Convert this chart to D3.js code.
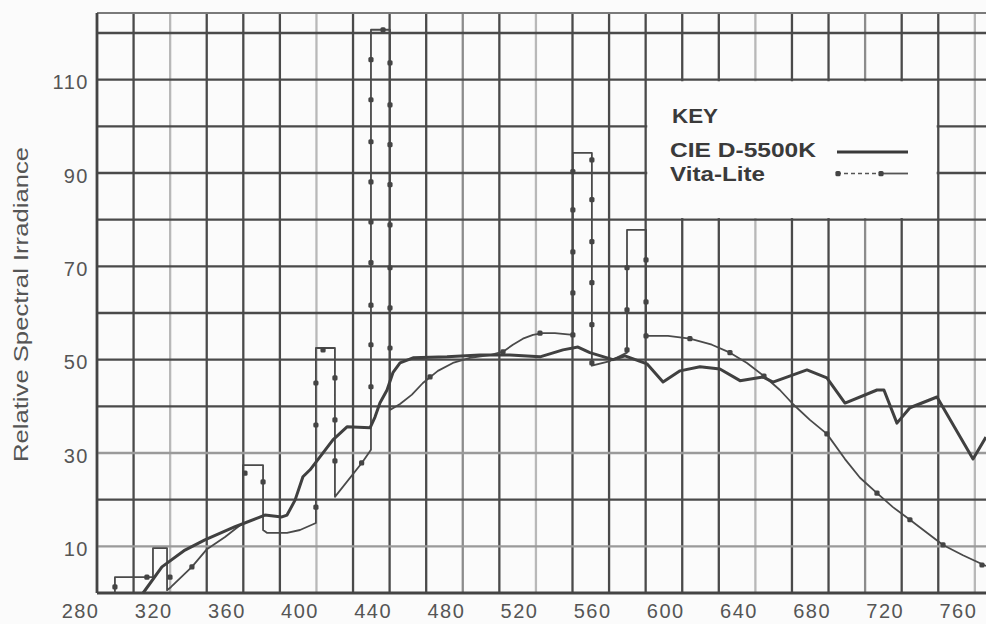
<!DOCTYPE html>
<html>
<head>
<meta charset="utf-8">
<script src="https://cdn.jsdelivr.net/npm/d3@7"></script>
<style>
  body { margin: 0; background: #fbfbfb; }
  svg { display: block; }
  text { font-family: "Liberation Sans", Arial, sans-serif; }
</style>
</head>
<body>
<div id="plot"></div>
<script>
// tick labels and grid
const xLabels = [280, 320, 360, 400, 440, 480, 520, 560, 600, 640, 680, 720, 760];
const xGrid = [280, 300, 320, 340, 360, 380, 400, 420, 440, 460, 480, 500, 520, 540, 560, 580, 600, 620, 640, 660, 680, 700, 720, 740, 760];
const yLabels = [10, 30, 50, 70, 90, 110];
const yGrid = [10, 20, 30, 40, 50, 60, 70, 80, 90, 100, 110, 120];
const fadedX = [320, 400, 520, 640, 760];
const halfX = [480, 700];
const fadedY = [10, 30];

// CIE D-5500K (solid)
const d55Wl = [305.2, 315.5, 328.1, 339.0, 355.5, 368.0, 371.8, 381.1, 383.9, 388.3, 392.6, 396.5, 409.0, 416.7, 429.3, 432.0,
  434.7, 438.6, 441.8, 445.7, 452.8, 471.4, 489.4, 505.8, 522.2, 534.8, 543.0, 549.5, 562.1, 568.7, 580.7, 589.5,
  598.8, 609.7, 620.6, 631.6, 644.1, 649.6, 668.2, 679.1, 689.0, 706.5, 710.3, 717.4, 724.5, 739.3, 759.0, 766.1];
const d55Val = [0, 5.6, 9.2, 11.4, 14.2, 16.1, 16.7, 16.3, 16.7, 19.9, 24.9, 26.4, 32.8, 35.6, 35.4, 37.7,
  40.7, 43.5, 47.2, 49.3, 50.4, 50.6, 51.0, 51.0, 50.6, 52.1, 52.7, 51.5, 50.0, 50.8, 49.1, 45.2,
  47.6, 48.5, 48.0, 45.5, 46.3, 45.2, 47.8, 46.1, 40.7, 43.5, 43.5, 36.4, 39.7, 42.0, 28.7, 33.4];

// Vita-Lite (line with mercury bars)
const vitaWl = [289.8, 289.8, 310.6, 310.6, 318.3, 318.3, 320.5, 331.9, 340.1, 350.0, 359.8, 359.8, 370.8, 370.8,
  372.9, 383.9, 391.0, 399.7, 399.7, 410.1, 410.1, 424.9, 429.8, 429.8, 440.2, 440.2, 445.7, 452.2, 458.2,
  466.4, 474.6, 483.9, 494.9, 502.0, 507.4, 512.9, 518.4, 523.8, 530.4, 540.2, 540.2, 550.6, 550.6, 560.5,
  569.8, 569.8, 580.2, 580.2, 592.2, 604.2, 616.2, 626.1, 635.4, 644.7, 653.4, 660.5, 669.8, 679.1, 689.0,
  697.2, 706.5, 715.2, 724.5, 733.8, 742.6, 753.5, 766.1];
const vitaVal = [0, 3.4, 3.4, 9.6, 9.6, 0.6, 1.3, 5.6, 9.4, 12.0, 15.0, 27.4, 27.4, 13.5,
  12.9, 12.9, 13.5, 15.0, 52.5, 52.5, 20.6, 27.9, 30.7, 120.7, 120.7, 39.2, 40.5, 42.5, 45.0,
  47.6, 49.3, 50.4, 51.0, 51.7, 53.2, 54.5, 55.3, 55.7, 55.7, 55.3, 94.3, 94.3, 48.7, 49.7,
  51.5, 77.8, 77.8, 55.1, 55.1, 54.5, 53.2, 51.5, 49.3, 46.5, 43.5, 40.5, 37.1, 34.1, 28.7,
  24.7, 21.4, 18.4, 15.7, 12.9, 10.3, 8.1, 5.8];

// Vita-Lite markers
const dotWl = [289.8, 307.3, 319.9, 331.9, 360.9, 370.8,
  399.7, 399.7, 399.7, 403.6, 410.1, 410.1, 410.1, 424.7,
  429.8, 429.8, 429.8, 429.8, 429.8, 429.8, 429.8, 429.8, 429.8,
  440.2, 440.2, 440.2, 440.2, 440.2, 440.2, 440.2, 440.2, 436.4,
  462.1, 502.0, 522.2, 540.2,
  540.2, 540.2, 540.2, 540.2, 550.6, 550.6, 550.6, 550.6, 550.6, 550.6,
  569.8, 569.8, 569.8, 580.2, 580.2, 580.2,
  604.2, 626.1, 644.7, 679.1, 706.5, 724.5, 742.6, 763.9];
const dotVal = [1.3, 3.4, 3.4, 5.6, 25.7, 23.8,
  45.0, 36.0, 18.4, 52.1, 46.1, 37.1, 28.3, 27.9,
  114.3, 105.7, 96.7, 88.1, 79.5, 70.8, 61.7, 53.2, 44.2,
  113.6, 104.6, 96.1, 87.5, 78.9, 69.7, 61.1, 52.5, 120.7,
  46.3, 51.7, 55.7, 55.3,
  90.3, 82.1, 73.1, 64.3, 92.8, 84.3, 75.3, 66.5, 57.5, 49.3,
  69.7, 60.7, 52.1, 71.4, 62.4, 55.1,
  54.5, 51.5, 46.5, 34.1, 21.4, 15.7, 10.3, 6.0];

var width = 986, height = 624;

var svg = d3.select("div#plot")
  .append("svg")
    .attr("width", width)
    .attr("height", height);

var x = d3.scaleLinear().domain([280, 766.1]).range([97, 986]);
var y = d3.scaleLinear().domain([0, 120]).range([593, 33]);
var yTop = y(124.3);

svg.append("rect").attr("width", width).attr("height", height).attr("fill", "#fbfbfb");

// grid
function gridColor(d) {
  if (fadedX.includes(d)) return "#b8b8b8";
  if (halfX.includes(d)) return "#8c8c8c";
  return "#4a4a4a";
}
svg.append("g").selectAll("line")
  .data(xGrid)
  .enter()
  .append("line")
    .attr("x1", d => x(d)).attr("x2", d => x(d))
    .attr("y1", yTop).attr("y2", y(0))
    .attr("stroke", gridColor)
    .attr("stroke-width", 2.3);

svg.append("g").selectAll("line")
  .data(yGrid)
  .enter()
  .append("line")
    .attr("x1", x(280)).attr("x2", width)
    .attr("y1", d => y(d)).attr("y2", d => y(d))
    .attr("stroke", d => fadedY.includes(d) ? "#9a9a9a" : "#4a4a4a")
    .attr("stroke-width", 2.3);

// frame
svg.append("line").attr("x1", x(280)).attr("x2", width).attr("y1", yTop).attr("y2", yTop)
  .attr("stroke", "#7a7a7a").attr("stroke-width", 2);
svg.append("line").attr("x1", x(280)).attr("x2", x(280)).attr("y1", yTop).attr("y2", y(0))
  .attr("stroke", "#444").attr("stroke-width", 2.6);
svg.append("line").attr("x1", x(280)).attr("x2", width).attr("y1", y(0)).attr("y2", y(0))
  .attr("stroke", "#444").attr("stroke-width", 2.8);

// key box
svg.append("rect")
  .attr("x", x(580) + 1.6).attr("y", y(110) + 1.6)
  .attr("width", x(740) - x(580) - 3.2).attr("height", y(80) - y(110) - 3.2)
  .attr("fill", "#fcfcfc");

// axis labels
var xAxis = svg.append("g")
  .attr("transform", "translate(0," + y(0) + ")")
  .call(d3.axisBottom(x).tickValues(xLabels).tickSize(0));
xAxis.select(".domain").remove();
xAxis.selectAll("text")
  .attr("y", 25).attr("dy", null).attr("x", 2)
  .attr("text-anchor", "end")
  .style("font-size", "20px")
  .style("letter-spacing", "1.5px")
  .style("font-family", "'Liberation Sans', Arial, sans-serif")
  .attr("fill", "#555");

var yAxis = svg.append("g")
  .attr("transform", "translate(" + x(280) + ",0)")
  .call(d3.axisLeft(y).tickValues(yLabels).tickSize(0).tickPadding(8));
yAxis.select(".domain").remove();
yAxis.selectAll("text")
  .attr("dy", null).attr("y", 9)
  .style("font-size", "20px")
  .style("letter-spacing", "1.5px")
  .style("font-family", "'Liberation Sans', Arial, sans-serif")
  .attr("fill", "#555");

svg.append("text")
  .attr("transform", "translate(28,304.5) rotate(-90)")
  .attr("text-anchor", "middle")
  .attr("textLength", 315)
  .attr("lengthAdjust", "spacingAndGlyphs")
  .style("font-size", "20px")
  .attr("fill", "#555")
  .text("Relative Spectral Irradiance");

// series
var d55 = d55Wl.map((w, i) => [w, d55Val[i]]);
var vita = vitaWl.map((w, i) => [w, vitaVal[i]]);
var dots = dotWl.map((w, i) => [w, dotVal[i]]);

svg.append("path")
  .datum(vita)
  .attr("d", d3.line().x(d => x(d[0])).y(d => y(d[1])))
  .attr("fill", "none")
  .attr("stroke", "#4a4a4a")
  .attr("stroke-width", 1.8)
  .attr("stroke-linejoin", "round");

svg.append("path")
  .datum(d55)
  .attr("d", d3.line().x(d => x(d[0])).y(d => y(d[1])))
  .attr("fill", "none")
  .attr("stroke", "#404040")
  .attr("stroke-width", 3)
  .attr("stroke-linejoin", "round");

svg.append("g").selectAll("rect")
  .data(dots)
  .enter()
  .append("rect")
    .attr("x", d => x(d[0]) - 2.6)
    .attr("y", d => y(d[1]) - 2.6)
    .attr("width", 5.2).attr("height", 5.2)
    .attr("rx", 1.5)
    .attr("fill", "#444");

// key
var key = svg.append("g").attr("fill", "#3a3a3a").style("font-weight", "bold");
key.append("text").attr("x", 672).attr("y", 123).style("font-size", "21px")
  .attr("textLength", 46).attr("lengthAdjust", "spacingAndGlyphs").text("KEY");
key.append("text").attr("x", 670).attr("y", 157).style("font-size", "21px")
  .attr("textLength", 146).attr("lengthAdjust", "spacingAndGlyphs").text("CIE D-5500K");
key.append("text").attr("x", 670).attr("y", 181).style("font-size", "20px")
  .attr("textLength", 95).attr("lengthAdjust", "spacingAndGlyphs").text("Vita-Lite");

svg.append("line").attr("x1", 837).attr("x2", 908).attr("y1", 152).attr("y2", 152)
  .attr("stroke", "#3a3a3a").attr("stroke-width", 3);
svg.append("line").attr("x1", 837).attr("x2", 880).attr("y1", 173.5).attr("y2", 173.5)
  .attr("stroke", "#555").attr("stroke-width", 1.6).attr("stroke-dasharray", "4 3");
svg.append("line").attr("x1", 880).attr("x2", 908).attr("y1", 173.5).attr("y2", 173.5)
  .attr("stroke", "#555").attr("stroke-width", 1.8);
svg.append("g").selectAll("rect")
  .data([838, 881])
  .enter()
  .append("rect")
    .attr("x", d => d - 2.6).attr("y", 171).attr("width", 5.2).attr("height", 5.2).attr("rx", 1.5)
    .attr("fill", "#444");
</script>
</body>
</html>
